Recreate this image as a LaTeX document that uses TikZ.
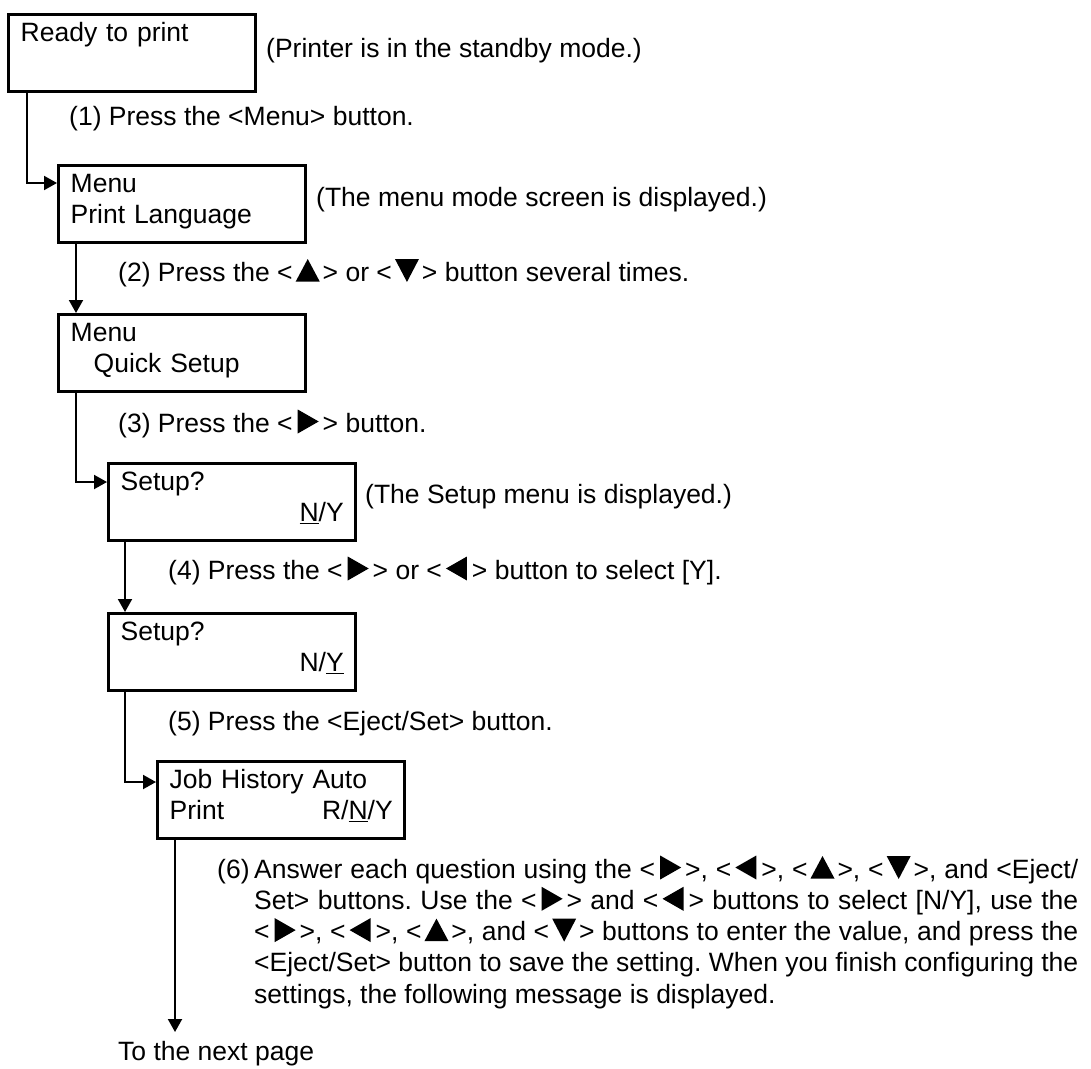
\documentclass[tikz,border=0pt]{standalone}
\usepackage{fontspec}
\setmainfont{Liberation Sans}
\usetikzlibrary{arrows.meta}

\newcommand\keyup{\tikz[baseline=0pt]{\path (0pt,0pt) (30pt,0pt);
  \fill (3pt,-0.5pt) -- (27pt,-0.5pt) -- (15pt,22pt) -- cycle;}}
\newcommand\keydown{\tikz[baseline=0pt]{\path (0pt,0pt) (30pt,0pt);
  \fill (3pt,22pt) -- (27pt,22pt) -- (15pt,-1pt) -- cycle;}}
\newcommand\keyright{\tikz[baseline=0pt]{\path (0pt,0pt) (30pt,0pt);
  \fill (5pt,-1.5pt) -- (26pt,10.5pt) -- (5pt,22.5pt) -- cycle;}}
\newcommand\keyleft{\tikz[baseline=0pt]{\path (0pt,0pt) (30pt,0pt);
  \fill (25pt,-1.5pt) -- (4pt,10.5pt) -- (25pt,22.5pt) -- cycle;}}
\newcommand\lcdline{\rule[-12pt]{0pt}{31pt}}

\tikzset{
  screen/.style={draw, line width=3.4pt, anchor=north west, text width=223pt, align=left,
    inner xsep=12pt, inner ysep=4pt, minimum width=247pt, minimum height=77pt},
  note/.style={anchor=base west, inner sep=0pt},
  flow/.style={line width=2pt, -{Triangle[length=13pt,width=14pt]}}
}

\begin{document}
\begin{tikzpicture}[x=1pt,y=-1pt,font=\fontsize{26.5}{31.3}\selectfont\frenchspacing]
\useasboundingbox (0,0) rectangle (1091,1068);

\node[screen] (rdy) at (7,13) {\lcdline Ready to print\\\lcdline};
\node[screen] (lang) at (57,164) {\lcdline Menu\\\lcdline Print Language};
\node[screen] (quick) at (57,313) {\lcdline Menu\\\lcdline\hspace*{23pt}Quick Setup};
\node[screen] (setn) at (107,462) {\lcdline Setup?\\\lcdline\hspace*{\fill}\underline{N}/Y\hspace*{4pt}};
\node[screen] (sety) at (107,612) {\lcdline Setup?\\\lcdline\hspace*{\fill}N/\underline{Y}\hspace*{4pt}};
\node[screen] (job) at (156,760) {\lcdline Job History Auto\\\lcdline Print\hspace*{\fill}R/\underline{N}/Y\hspace*{9pt}};

\node[note] (n1) at (266,57) {(Printer is in the standby mode.)};
\node[note] (st1) at (69,125) {(1) Press the <Menu> button.};
\node[note] (n2) at (316,206) {(The menu mode screen is displayed.)};
\node[note] (st2) at (118,281) {(2) Press the <\keyup> or <\keydown> button several times.};
\node[note] (st3) at (118,432) {(3) Press the <\keyright> button.};
\node[note] (n4) at (365,503) {(The Setup menu is displayed.)};
\node[note] (st4) at (168,579) {(4) Press the <\keyright> or <\keyleft> button to select [Y].};
\node[note] (st5) at (168,730) {(5) Press the <Eject/Set> button.};
\node[note] (st6) at (217,878) {(6)};
\node[note, text width=824pt, align=justify] (st6txt) at (254,878) {Answer each question using the <\keyright>, <\keyleft>, <\keyup>, <\keydown>, and <Eject/\linebreak
Set> buttons. Use the <\keyright> and <\keyleft> buttons to select [N/Y], use the\linebreak
<\keyright>, <\keyleft>, <\keyup>, and <\keydown> buttons to enter the value, and press the\linebreak
<Eject/Set> button to save the setting. When you finish configuring the\linebreak
settings, the following message is displayed.};
\node[note] (next) at (118,1060) {To the next page};
\coordinate (jobend) at (175,1032);

\draw[flow] ([xshift=20pt]rdy.south west) |- ([yshift=-19pt]lang.north west);
\draw[flow] ([xshift=19pt]lang.south west) -- ([xshift=19pt]quick.north west);
\draw[flow] ([xshift=19pt]quick.south west) |- ([yshift=-20pt]setn.north west);
\draw[flow] ([xshift=18pt]setn.south west) -- ([xshift=18pt]sety.north west);
\draw[flow] ([xshift=18pt]sety.south west) |- ([yshift=-22pt]job.north west);
\draw[flow] ([xshift=19pt]job.south west) -- (jobend);
\end{tikzpicture}
\end{document}
